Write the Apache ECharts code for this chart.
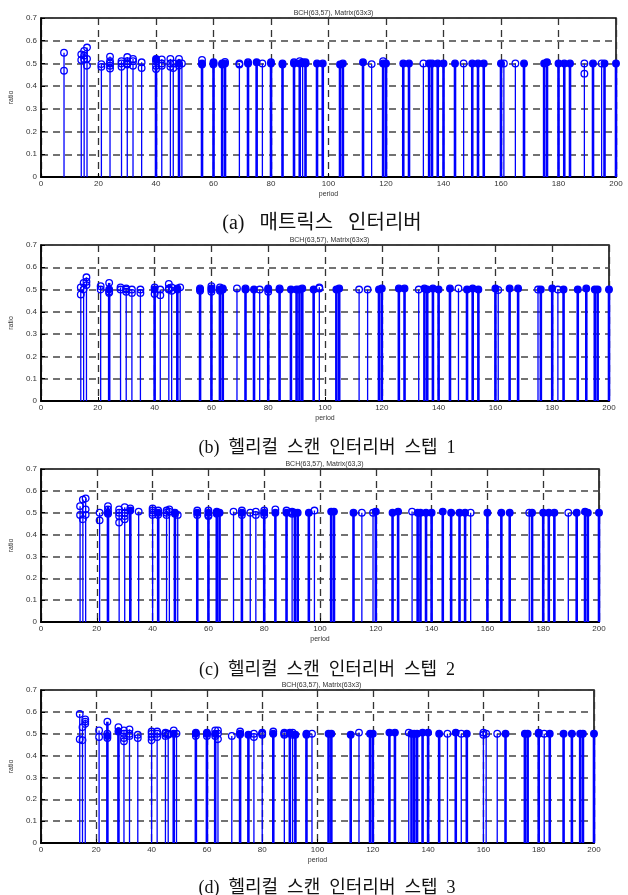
<!DOCTYPE html>
<html lang="ko">
<head>
  <meta charset="UTF-8">
  <title>BCH stem plots</title>
  <script src="https://cdn.jsdelivr.net/npm/echarts@6/dist/echarts.min.js"></script>
  <style>
    html, body { margin:0; padding:0; background:#fff; }
    #main { width:628px; height:895px; }
  </style>
</head>
<body>
<div id="main"></div>
<script>
  // (a) 매트릭스 인터리버
  var periodsA = [8,14,15,16,21,24,28,30,32,35,40,42,45,46,48,49,56,60,63,64,69,72,75,77,80,84,88,90,91,92,96,98,
    104,105,112,115,119,120,126,128,133,135,136,138,140,144,147,150,152,154,160,161,165,168,175,176,180,182,184,189,192,195,196,200];
  var ratiosA = [
    [0.547,0.468],[0.54,0.515],[0.555,0.535,0.52],[0.57,0.52,0.49],[0.497,0.485],[0.53,0.51,0.5,0.49,0.478],
    [0.51,0.5,0.485],[0.528,0.51,0.5,0.495],[0.52,0.51,0.49],[0.505,0.48],[0.52,0.52,0.51,0.49,0.475],[0.518,0.5,0.49],
    [0.52,0.5,0.485],[0.5,0.48],[0.52,0.5,0.5,0.49],[0.5],[0.515,0.5,0.5,0.495],[0.505,0.5,0.5,0.495],
    [0.5,0.5,0.495],[0.507,0.5,0.5],[0.5,0.495],[0.505,0.5,0.5],[0.505,0.505],[0.5],
    [0.505,0.5,0.5],[0.5,0.5,0.495],[0.505,0.5,0.5],[0.51,0.5,0.5],[0.505],[0.505,0.5,0.5],[0.5,0.5],[0.5,0.5],
    [0.495,0.495],[0.5,0.5],[0.505,0.505],[0.497],[0.51,0.5,0.5],[0.5,0.5],[0.5,0.5],[0.5,0.5],
    [0.5],[0.5,0.5],[0.5,0.5],[0.5,0.5],[0.5,0.5],[0.5,0.5],[0.5],[0.5,0.5],[0.5,0.5],[0.5,0.5],
    [0.5,0.5],[0.5],[0.5],[0.5,0.5],[0.5,0.5],[0.505,0.505],[0.5,0.5],[0.5,0.5],[0.5,0.5],[0.5,0.455],
    [0.5,0.5],[0.5],[0.5,0.5],[0.5,0.5]
  ];

  // (b) 헬리컬 스캔 인터리버 스텝 1
  var periodsB = [14,15,16,21,24,28,30,32,35,40,42,45,46,48,49,56,60,63,64,69,72,75,77,80,84,88,90,91,92,96,98,
    104,105,112,115,119,120,126,128,133,135,136,138,140,144,147,150,152,154,160,161,165,168,175,176,180,182,184,189,192,195,196,200];
  var ratiosB = [
    [0.51,0.478],[0.53,0.5],[0.555,0.535,0.52],[0.515,0.5],[0.53,0.5,0.5,0.49,0.485],[0.51,0.5],[0.505,0.5,0.49],
    [0.5,0.485],[0.5,0.485],[0.51,0.5,0.5,0.48],[0.5,0.475],[0.525,0.505,0.5],[0.51,0.495],[0.505,0.5,0.5],[0.51],
    [0.505,0.5,0.5,0.495],[0.515,0.505,0.5,0.5,0.49],[0.51,0.5,0.5,0.495],[0.505,0.5,0.5],[0.505],[0.505,0.5,0.5],
    [0.5,0.5],[0.5],[0.505,0.5,0.5,0.49],[0.505,0.5,0.5],[0.5,0.5],[0.5,0.5],[0.5,0.5],[0.505,0.505],[0.5,0.5],[0.51,0.505],
    [0.5,0.5],[0.505,0.505],[0.5],[0.5],[0.5,0.5],[0.505,0.505],[0.505,0.505],[0.505,0.505],
    [0.5],[0.505,0.505],[0.5,0.5],[0.505,0.505],[0.5,0.5],[0.505,0.505],[0.505],[0.5,0.5],[0.505,0.505],[0.5,0.5],
    [0.505,0.505],[0.498],[0.505,0.505],[0.505,0.505],[0.5],[0.5,0.5],[0.505,0.505],[0.5],[0.5,0.5],[0.5,0.5],
    [0.505,0.505],[0.5,0.5],[0.5,0.5],[0.5,0.5]
  ];

  // (c) 헬리컬 스캔 인터리버 스텝 2
  var periodsC = [14,15,16,21,24,28,30,32,35,40,42,45,46,48,49,56,60,63,64,69,72,75,77,80,84,88,90,91,92,96,98,
    104,105,112,115,119,120,126,128,133,135,136,138,140,144,147,150,152,154,160,165,168,175,176,180,182,184,189,192,195,196,200];
  var ratiosC = [
    [0.53,0.49],[0.56,0.47],[0.565,0.515,0.49],[0.5,0.465],[0.53,0.515,0.5,0.5,0.495],[0.515,0.5,0.485,0.455],
    [0.525,0.5,0.485,0.47],[0.52,0.51,0.51],[0.505],[0.52,0.51,0.5,0.49],[0.51,0.5,0.5,0.49],[0.51,0.5,0.49],
    [0.515,0.505],[0.5,0.5,0.495],[0.49],[0.51,0.5,0.5,0.49],[0.51,0.5,0.5,0.49,0.485],[0.505,0.5,0.5,0.495],
    [0.5,0.5],[0.505],[0.51,0.5,0.5,0.49],[0.5],[0.505,0.49],[0.51,0.5,0.5,0.49],[0.515,0.5,0.5],[0.51,0.5,0.5],
    [0.505,0.5,0.495],[0.5,0.5],[0.5,0.5],[0.5,0.5],[0.51],
    [0.505,0.505],[0.505,0.505],[0.5,0.5],[0.5],[0.5],[0.505,0.505],[0.5,0.5],[0.505,0.505],
    [0.505],[0.5,0.5],[0.5,0.5],[0.5,0.5],[0.5,0.5],[0.505,0.505],[0.5,0.5],[0.5,0.5],[0.5,0.5],[0.5],
    [0.5,0.5],[0.5,0.5],[0.5,0.5],[0.5],[0.5,0.5],[0.5,0.5],[0.5,0.5],[0.5,0.5],[0.5],
    [0.5,0.5],[0.505,0.505],[0.5,0.5],[0.5,0.5]
  ];

  // (d) 헬리컬 스캔 인터리버 스텝 3
  var periodsD = [14,15,16,21,24,28,30,32,35,40,42,45,46,48,49,56,60,63,64,69,72,75,77,80,84,88,90,91,92,96,98,
    104,105,112,115,119,120,126,128,133,134,135,136,138,140,144,147,150,152,154,160,161,165,168,175,176,180,182,184,189,192,195,196,200];
  var ratiosD = [
    [0.59,0.475],[0.53,0.47],[0.565,0.555,0.545],[0.515,0.485],[0.555,0.5,0.49,0.49,0.48],[0.53,0.51,0.51],
    [0.515,0.5,0.48,0.465],[0.52,0.5,0.49],[0.495,0.48],[0.51,0.5,0.485,0.47],[0.51,0.5,0.485],[0.505,0.5,0.49],
    [0.5,0.495],[0.515,0.5,0.5],[0.5],[0.505,0.5,0.5,0.49],[0.505,0.5,0.5,0.49],[0.515,0.5,0.5,0.49],
    [0.515,0.5,0.475],[0.49],[0.51,0.5,0.5,0.495],[0.495,0.495],[0.5,0.485],[0.505,0.5,0.495],[0.51,0.5,0.5],
    [0.505,0.5,0.495],[0.505,0.5,0.5],[0.505,0.495],[0.495,0.495],[0.5,0.5,0.495],[0.5],
    [0.5,0.5],[0.5,0.5],[0.495,0.495],[0.505],[0.5,0.5],[0.5,0.5],[0.505,0.505],[0.505,0.505],
    [0.505],[0.5,0.5],[0.5,0.5],[0.5,0.5],[0.505,0.505],[0.505,0.505],[0.5,0.5],[0.5],[0.505,0.505],[0.5],[0.5,0.5],
    [0.505,0.495],[0.5],[0.5],[0.5,0.5],[0.5,0.5],[0.5,0.5],[0.505,0.5,0.5],[0.5],[0.5,0.5],[0.5,0.5],
    [0.5,0.5],[0.5,0.5],[0.5,0.5],[0.5,0.5]
  ];

  var plotTitles = ['BCH(63,57), Matrix(63x3)','BCH(63,57), Matrix(63x3)','BCH(63,57), Matrix(63,3)','BCH(63,57), Matrix(63x3)'];
  var captions = ['(a)   매트릭스   인터리버','(b)  헬리컬  스캔  인터리버  스텝  1','(c)  헬리컬  스캔  인터리버  스텝  2','(d)  헬리컬  스캔  인터리버  스텝  3'];

  // plot boxes [left, top, width, height]
  var boxes = [
    [41, 18, 575, 159],
    [40, 245, 569, 156],
    [40, 469, 559, 153],
    [39, 690, 555, 153]
  ];
  var captionY = [209, 434, 656, 874];

  var allPeriods = [periodsA, periodsB, periodsC, periodsD];
  var allRatios = [ratiosA, ratiosB, ratiosC, ratiosD];

  var chart = echarts.init(document.getElementById('main'));
  var sans = 'Liberation Sans, Arial, sans-serif';
  var blue = '#0000ff';

  function stemSeries(k){
    var ratios = allRatios[k];
    return {
      type:'custom',
      xAxisIndex:k,
      yAxisIndex:k,
      encode:{x:0, y:1},
      data: allPeriods[k].map(function(p, i){ return [p, Math.max.apply(null, ratios[i]), i]; }),
      renderItem: function(params, api){
        var p = api.value(0);
        var vals = ratios[api.value(2)];
        var counts = {};
        vals.forEach(function(v){ counts[v] = (counts[v] || 0) + 1; });
        var heavy = Object.keys(counts).some(function(v){ return counts[v] > 1; });
        var base = api.coord([p, 0]);
        var top = api.coord([p, api.value(1)]);
        var kids = [{
          type:'line',
          shape:{x1:base[0], y1:base[1], x2:top[0], y2:top[1]},
          style:{stroke:blue, lineWidth: heavy ? 2.6 : 1.3}
        }];
        Object.keys(counts).forEach(function(v){
          var c = api.coord([p, +v]);
          kids.push({
            type:'circle',
            shape:{cx:c[0], cy:c[1], r:3.3},
            style:{fill: counts[v] > 1 ? blue : 'none', stroke:blue, lineWidth:1.3}
          });
        });
        return {type:'group', children:kids};
      }
    };
  }

  var grids = [], xAxes = [], yAxes = [], titles = [], series = [];
  boxes.forEach(function(b, k){
    grids.push({left:b[0], top:b[1], width:b[2], height:b[3], show:true, borderColor:'#000', borderWidth:1.5, containLabel:false});
    xAxes.push({
      gridIndex:k, type:'value', min:0, max:200, interval:20,
      name:'period', nameLocation:'middle', nameGap:14,
      nameTextStyle:{fontFamily:sans, fontSize:7, color:'#333'},
      axisLine:{lineStyle:{color:'#000', width:2}},
      axisTick:{inside:true, length:4, lineStyle:{color:'#000'}},
      axisLabel:{fontFamily:sans, fontSize:8, color:'#333', margin:3},
      splitLine:{show:true, lineStyle:{color:'#333', width:1.3, type:[7,5]}}
    });
    yAxes.push({
      gridIndex:k, type:'value', min:0, max:0.7, interval:0.1,
      name:'ratio', nameLocation:'middle', nameGap:20, nameRotate:90,
      nameTextStyle:{fontFamily:sans, fontSize:7, color:'#333'},
      axisLine:{show:true, lineStyle:{color:'#000', width:1.5}},
      axisTick:{inside:true, length:4, lineStyle:{color:'#000'}},
      axisLabel:{fontFamily:sans, fontSize:8, color:'#333', margin:4,
        formatter:function(v){ return v === 0 ? '0' : v.toFixed(1); }},
      splitLine:{show:true, lineStyle:{color:'#444', width:1.5, type:[7,5]}}
    });
    titles.push({
      text:plotTitles[k], left:b[0] + b[2] / 2, top:b[1] - 13, textAlign:'center',
      textStyle:{fontFamily:sans, fontSize:7, fontWeight:'normal', color:'#333'}
    });
    titles.push({
      text:captions[k], left:k === 0 ? 317 : 322, top:captionY[k], textAlign:'center',
      textStyle:{fontFamily:'Liberation Serif, Noto Sans CJK KR, serif', fontSize:k === 0 ? 20 : 18, fontWeight:'normal', color:'#111'}
    });
    series.push(stemSeries(k));
  });

  chart.setOption({
    backgroundColor:'#fff',
    animation:false,
    title:titles,
    grid:grids,
    xAxis:xAxes,
    yAxis:yAxes,
    series:series
  });
</script>
</body>
</html>
